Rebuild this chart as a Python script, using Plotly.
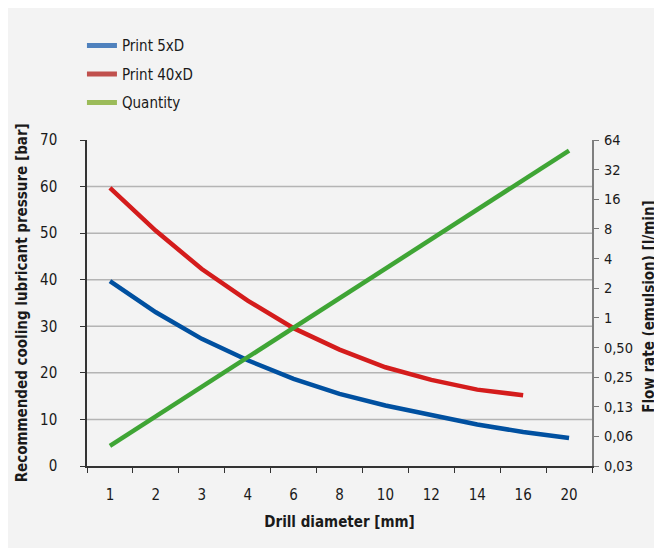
import plotly.graph_objects as go

# Drill diameter categories [mm]
diameters = ['1', '2', '3', '4', '6', '8', '10', '12', '14', '16', '20']

# Recommended cooling lubricant pressure [bar]
print_5xd = [39.7, 33.0, 27.3, 22.7, 18.7, 15.5, 13.0, 10.9, 8.9, 7.3, 6.0]
print_40xd = [59.7, 50.5, 42.3, 35.5, 29.6, 25.0, 21.2, 18.5, 16.4, 15.2]

# Flow rate (emulsion) [l/min]
quantity = [0.05, 0.1, 0.2, 0.4, 0.8, 1.6, 3.2, 6.3, 12.5, 25, 50]

left_ticks = [0, 10, 20, 30, 40, 50, 60, 70]
grid_vals = [10, 20, 30, 40, 50, 60]
right_vals = [0.03125, 0.0625, 0.125, 0.25, 0.5, 1, 2, 4, 8, 16, 32, 64]
right_text = ['0,03', '0,06', '0,13', '0,25', '0,50', '1', '2', '4', '8', '16', '32', '64']

FONT = 'DejaVu Sans Condensed, Liberation Sans Narrow, sans-serif'
BG = '#f3f3f3'

fig = go.Figure()

# legend entries (lighter swatches, as in the original)
legend_items = [('Print 5xD', '#4f81bd'), ('Print 40xD', '#c0504d'), ('Quantity', '#9bbb59')]
for i, (name, col) in enumerate(legend_items):
    fig.add_trace(go.Scatter(x=[None], y=[None], mode='lines', name=name,
                             legendgroup='g%d' % i,
                             line=dict(color=col, width=5)))

fig.add_trace(go.Scatter(x=diameters, y=print_5xd, mode='lines', showlegend=False,
                         line=dict(color='#0050a0', width=4.5)))
fig.add_trace(go.Scatter(x=diameters[:len(print_40xd)], y=print_40xd, mode='lines',
                         showlegend=False, line=dict(color='#d41c1c', width=4.5)))
fig.add_trace(go.Scatter(x=diameters, y=quantity, mode='lines', showlegend=False,
                         yaxis='y2', line=dict(color='#3fa535', width=4.5)))

shapes = []
for v in grid_vals:
    shapes.append(dict(type='line', xref='paper', yref='y', x0=0, x1=1, y0=v, y1=v,
                       line=dict(color='#b4b4b4', width=1.5), layer='below'))

# y axis titles as rotated annotations (exact placement)
annotations = [
    dict(text='<b>Recommended cooling lubricant pressure [bar]</b>', xref='paper', yref='paper',
         x=-0.128, y=0.5, xanchor='center', yanchor='middle', textangle=-90,
         showarrow=False, font=dict(size=15)),
    dict(text='<b>Flow rate (emulsion) [l/min]</b>', xref='paper', yref='paper',
         x=1.114, y=0.49, xanchor='center', yanchor='middle', textangle=-90,
         showarrow=False, font=dict(size=15)),
]

fig.update_layout(
    width=654, height=540,
    margin=dict(l=79, r=70, t=132, b=82),
    paper_bgcolor=BG,
    plot_bgcolor=BG,
    font=dict(family=FONT, size=15, color='#1a1a1a'),
    shapes=shapes,
    annotations=annotations,
    showlegend=True,
    legend=dict(x=-0.010, y=1.34, xanchor='left', yanchor='top',
                bgcolor='rgba(0,0,0,0)', tracegroupgap=6,
                font=dict(family=FONT, size=15, color='#1a1a1a')),
    xaxis=dict(type='category', range=[-0.5, 10.5], tickson='boundaries',
               automargin=False,
               ticks='outside', ticklen=5, tickcolor='#333333',
               showline=True, linecolor='#333333', linewidth=1.5,
               showgrid=False, ticklabelstandoff=14,
               title=dict(text='<b>Drill diameter [mm]</b>', font=dict(size=15), standoff=14)),
    yaxis=dict(range=[0, 70], tickvals=left_ticks, ticks='outside', ticklen=5,
               automargin=False,
               tickcolor='#333333', showline=True, linecolor='#333333', linewidth=1.5,
               showgrid=False, zeroline=False, ticklabelstandoff=20),
    yaxis2=dict(type='log', overlaying='y', side='right',
                automargin=False,
                range=[-1.50515, 1.80618], tickvals=right_vals, ticktext=right_text,
                ticks='outside', ticklen=5, tickcolor='#777777',
                showline=True, linecolor='#7f7f7f', linewidth=2,
                showgrid=False, zeroline=False, ticklabelstandoff=2,
                tickfont=dict(size=14.5)),
)

fig.write_html('out.html')
